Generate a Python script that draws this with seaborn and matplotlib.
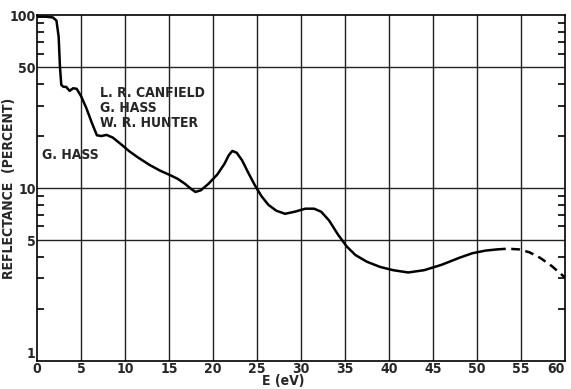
import numpy as np
import matplotlib.pyplot as plt
import seaborn as sns
import pandas as pd
from matplotlib.ticker import FixedLocator, NullFormatter

# measured curve (solid part)
energy = [0, 1.0, 1.8, 2.2, 2.45, 2.6, 2.75, 3.0, 3.3, 3.7, 4.1, 4.5, 5.0, 5.6, 6.2, 6.8,
          7.3, 7.9, 8.6, 9.5, 10.5, 11.5, 12.8, 14.0, 15.1, 16.0, 16.8, 17.5, 18.0,
          18.6, 19.5, 20.5, 21.3, 21.8, 22.2, 22.7, 23.3, 24.0, 24.8, 25.5, 26.3,
          27.2, 28.2, 29.3, 30.5, 31.5, 32.3, 33.2, 34.2, 35.2, 36.2, 37.5, 39.0,
          40.5, 42.2, 44.0, 46.0, 48.0, 49.5, 51.0, 52.3]
reflectance = [98, 98, 97, 93, 75, 50, 39.5, 38.5, 38.5, 36.5, 37.8, 37.5, 34, 29, 24, 20.2,
               20.0, 20.3, 19.6, 18.0, 16.3, 15.0, 13.6, 12.6, 11.9, 11.3, 10.6, 9.9, 9.5,
               9.7, 10.6, 12.0, 13.8, 15.5, 16.4, 16.0, 14.5, 12.3, 10.3, 9.0, 8.0,
               7.4, 7.1, 7.3, 7.6, 7.6, 7.3, 6.5, 5.4, 4.6, 4.1, 3.75, 3.5,
               3.35, 3.25, 3.35, 3.6, 3.95, 4.2, 4.35, 4.42]
# extrapolated part (dashed)
energy_ext = [52.3, 53.5, 54.8, 56.0, 57.2, 58.5, 60.0]
reflectance_ext = [4.42, 4.46, 4.42, 4.25, 3.95, 3.55, 3.05]

x_ticks = list(range(0, 61, 5))
y_ticks = [1, 5, 10, 50, 100]
y_minor = [2, 3, 4, 6, 7, 8, 9, 20, 30, 40, 60, 70, 80, 90]

df = pd.DataFrame({"E": energy, "R": reflectance})
df_ext = pd.DataFrame({"E": energy_ext, "R": reflectance_ext})

sns.set_style("white")
plt.rcParams['font.family'] = ['DejaVu Sans']
plt.rcParams['font.stretch'] = 'condensed'
plt.rcParams['font.weight'] = 'bold'
plt.rcParams['axes.labelweight'] = 'bold'

fig = plt.figure(figsize=(5.71, 3.89), dpi=100)
ax = fig.add_axes([0.065, 0.072, 0.924, 0.889])

ax.set_yscale("log")
ax.set_xlim(0, 60)
ax.set_ylim(1, 100)

# grid
for x in x_ticks[1:-1]:
    ax.axvline(x, color="#222222", lw=1.0, zorder=1)
for y in [5, 10, 50]:
    ax.axhline(y, color="#222222", lw=1.0, zorder=1)

sns.lineplot(data=df, x="E", y="R", ax=ax, color="black", lw=1.8, zorder=3)
sns.lineplot(data=df_ext, x="E", y="R", ax=ax, color="black", lw=1.8,
             linestyle=(0, (3.5, 2.2)), zorder=3)

ax.xaxis.set_major_locator(FixedLocator(x_ticks))
ax.set_xticklabels([str(v) for v in x_ticks])
ax.yaxis.set_major_locator(FixedLocator(y_ticks))
ax.set_yticklabels([str(v) for v in y_ticks])
ax.yaxis.set_minor_locator(FixedLocator(y_minor))
ax.yaxis.set_minor_formatter(NullFormatter())

ax.tick_params(axis="x", length=0, pad=1, labelsize=10)
ax.tick_params(axis="y", which="major", length=0, pad=1, labelsize=10)
ax.tick_params(axis="y", which="minor", direction="in", length=5, width=1.2,
               left=True, right=True, color="black")
for lab in ax.get_xticklabels():
    if lab.get_text() == "60":
        lab.set_horizontalalignment("right")
for lab in ax.get_yticklabels():
    if lab.get_text() == "1":
        lab.set_verticalalignment("bottom")

for s in ax.spines.values():
    s.set_color("black")
    s.set_linewidth(1.2)

ax.set_xlabel("E (eV)", fontsize=10)
ax.xaxis.set_label_coords(28 / 60, -0.039, transform=ax.transAxes)
ax.xaxis.label.set_va("top")
ax.set_ylabel("REFLECTANCE  (PERCENT)", fontsize=10)
ax.yaxis.set_label_coords(-0.04, 0.5, transform=ax.transAxes)

ax.text(7.2, 39, "L. R. CANFIELD\nG. HASS\nW. R. HUNTER", fontsize=10,
        va="top", ha="left", linespacing=1.1)
ax.text(0.5, 15.5, "G. HASS", fontsize=10, va="center", ha="left")

fig.savefig("out.png", dpi=100)
